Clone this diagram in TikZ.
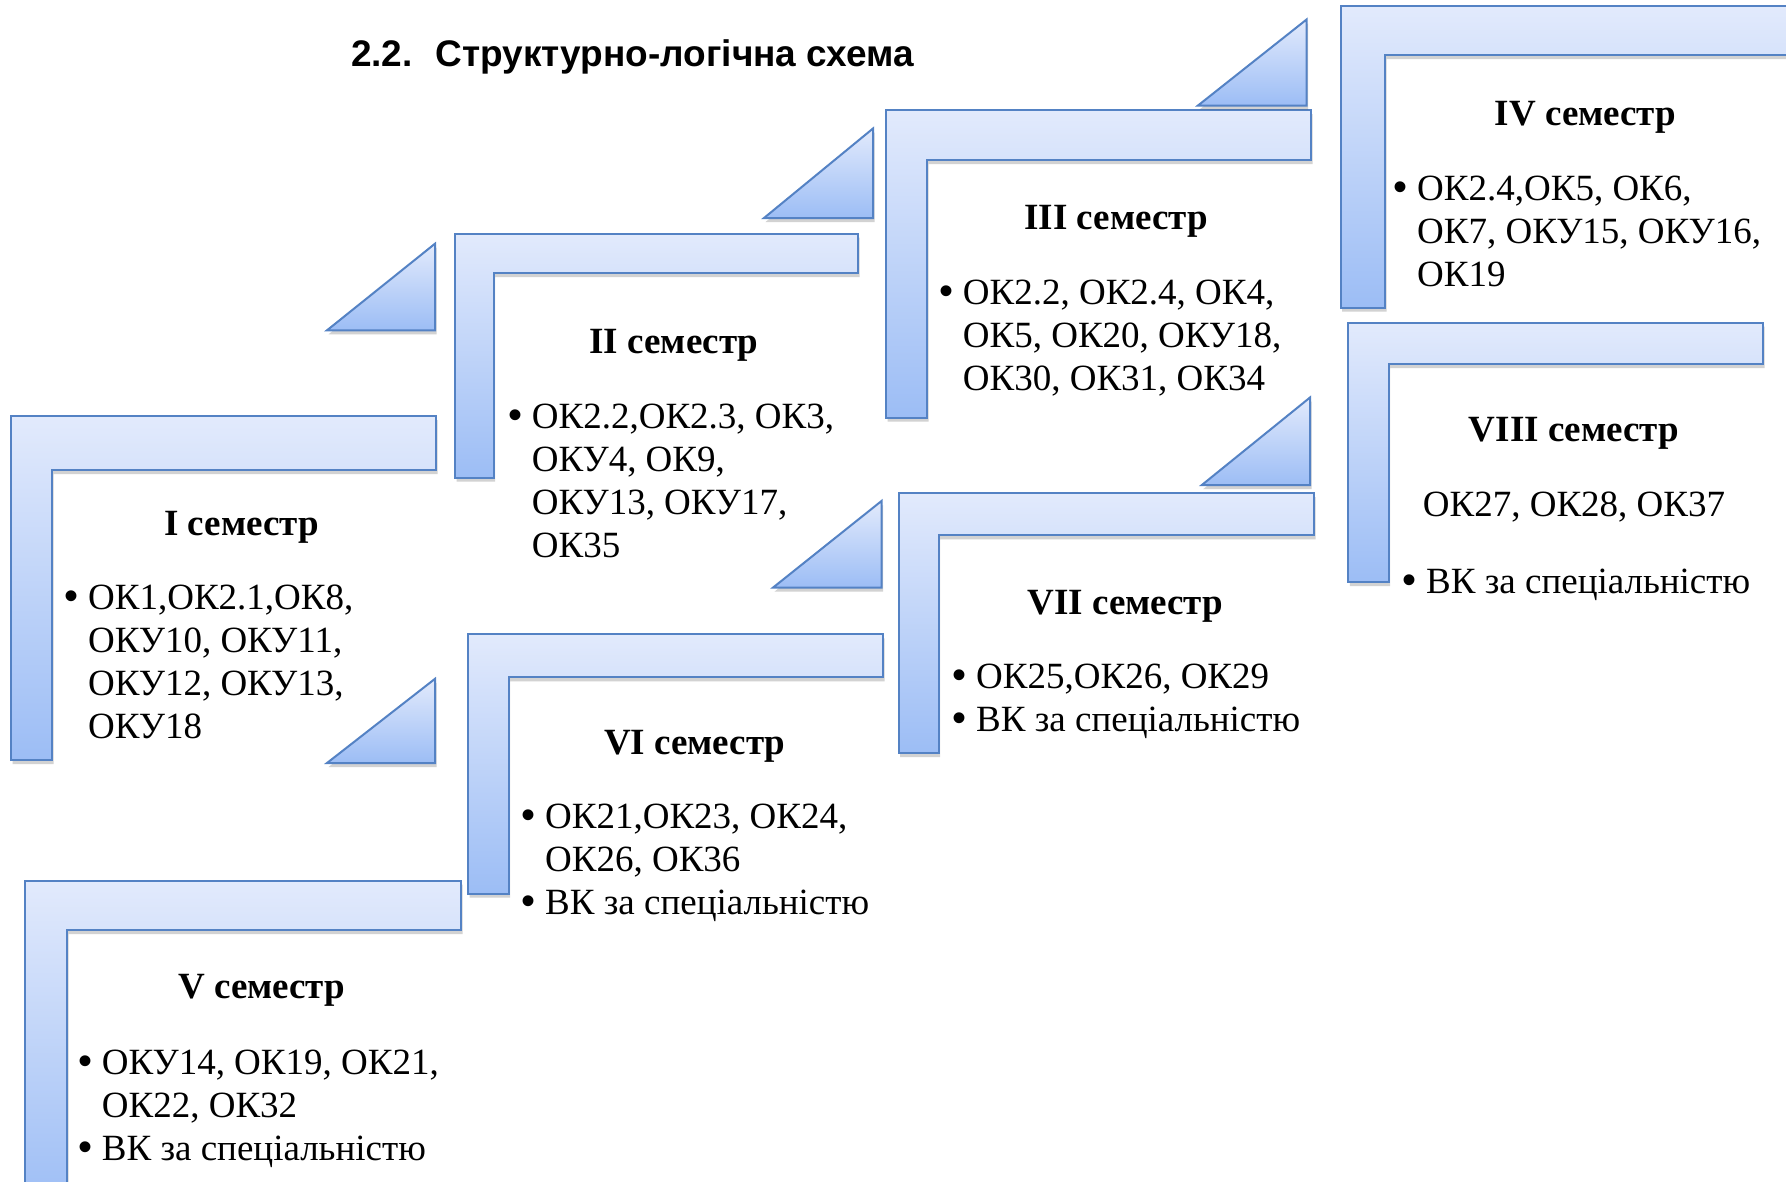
\documentclass[tikz,border=0pt]{standalone}
\usepackage{fontspec}
\setmainfont{Liberation Serif}
\newfontfamily\titlefont{Liberation Sans}
\usetikzlibrary{shadows}
\definecolor{edgeblue}{RGB}{84,130,196}
\definecolor{topblue}{RGB}{226,234,252}
\definecolor{botblue}{RGB}{156,189,245}
\newcommand\blt{{\titlefont\fontsize{40}{43}\selectfont •}}
\newcommand\blist[1]{\begin{tabular}[t]{@{}l@{\hspace{9.5pt}}l@{}}#1\end{tabular}}
\tikzset{
  stepframe/.style={draw=edgeblue, line width=2pt, line join=miter,
    top color=topblue, bottom color=botblue,
    drop shadow={shadow xshift=1.5pt, shadow yshift=-4pt, opacity=0.25, fill=black!70}},
  headtxt/.style={font={\fontsize{37}{43}\selectfont\bfseries}, inner sep=0pt, anchor=base},
  bodytxt/.style={font={\fontsize{37}{43}\selectfont}, inner sep=0pt, anchor=base west},
  ctrtxt/.style={font={\fontsize{37}{43}\selectfont}, inner sep=0pt, anchor=base},
}
\begin{document}
\begin{tikzpicture}[x=1pt,y=-1pt]
\useasboundingbox (0,0) rectangle (1786,1181);
\fill[white] (0,0) rectangle (1786,1181);
\begin{scope}
\clip (0,0) rectangle (1786,1181);
% half frames
\path[stepframe] (11,416) -- (436,416) -- (436,470) -- (52,470) -- (52,760) -- (11,760) -- cycle;
\path[stepframe] (455,233.5) -- (858,233.5) -- (858,273) -- (493.5,273) -- (493.5,477.5) -- (455,477.5) -- cycle;
\path[stepframe] (886,110) -- (1311,110) -- (1311,160) -- (927,160) -- (927,417.5) -- (886,417.5) -- cycle;
\path[stepframe] (1340.7,6) -- (1810,6) -- (1810,55) -- (1385,55) -- (1385,307.5) -- (1340.7,307.5) -- cycle;
\path[stepframe] (25,880.7) -- (461,880.7) -- (461,930) -- (67,930) -- (67,1210) -- (25,1210) -- cycle;
\path[stepframe] (468,634.3) -- (883,634.3) -- (883,677.3) -- (508.5,677.3) -- (508.5,893.5) -- (468,893.5) -- cycle;
\path[stepframe] (898.7,493.2) -- (1314,493.2) -- (1314,535.3) -- (938.5,535.3) -- (938.5,753) -- (898.7,753) -- cycle;
\path[stepframe] (1348.3,322.7) -- (1763,322.7) -- (1763,364.2) -- (1388.7,364.2) -- (1388.7,582) -- (1348.3,582) -- cycle;
% triangles
\path[stepframe] (327,330.3) -- (435,330.3) -- (435,243.7) -- cycle;
\path[stepframe] (327,763) -- (435,763) -- (435,678.8) -- cycle;
\path[stepframe] (764,218) -- (873,218) -- (873,128.5) -- cycle;
\path[stepframe] (1198,105.5) -- (1306.7,105.5) -- (1306.7,19.4) -- cycle;
\path[stepframe] (773,587.6) -- (881.5,587.6) -- (881.5,501) -- cycle;
\path[stepframe] (1201.6,485.2) -- (1310,485.2) -- (1310,397.5) -- cycle;
\end{scope}
% title
\node[font={\fontsize{37}{43}\selectfont\titlefont\bfseries}, inner sep=0pt, anchor=base west] (title) at (350.8,66) {2.2.\hspace{23pt}Структурно-логічна схема};
% headings
\node[headtxt] (h1) at (241.5,535) {I семестр};
\node[headtxt] (h2) at (674,353) {II семестр};
\node[headtxt] (h3) at (1116,229.3) {III семестр};
\node[headtxt] (h4) at (1585.5,125) {IV семестр};
\node[headtxt] (h5) at (261.7,998.3) {V семестр};
\node[headtxt] (h6) at (694.7,754.3) {VI семестр};
\node[headtxt] (h7) at (1125.3,614) {VII семестр};
\node[headtxt] (h8) at (1574,441.7) {VIII семестр};
% bodies
\node[bodytxt] (b1) at (64.5,609.5) {\blist{\blt & ОК1,ОК2.1,ОК8,\\ & ОКУ10, ОКУ11,\\ & ОКУ12, ОКУ13,\\ & ОКУ18}};
\node[bodytxt] (b2) at (508.2,428) {\blist{\blt & ОК2.2,ОК2.3, ОК3,\\ & ОКУ4, ОК9,\\ & ОКУ13, ОКУ17,\\ & ОК35}};
\node[bodytxt] (b3) at (939.2,304) {\blist{\blt & ОК2.2, ОК2.4, ОК4,\\ & ОК5, ОК20, ОКУ18,\\ & ОК30, ОК31, ОК34}};
\node[bodytxt] (b4) at (1393.5,200) {\blist{\blt & ОК2.4,ОК5, ОК6,\\ & ОК7, ОКУ15, ОКУ16,\\ & ОК19}};
\node[bodytxt] (b5) at (78.2,1074) {\blist{\blt & ОКУ14, ОК19, ОК21,\\ & ОК22, ОК32\\ \blt & ВК за спеціальністю}};
\node[bodytxt] (b6) at (521.5,828.5) {\blist{\blt & ОК21,ОК23, ОК24,\\ & ОК26, ОК36\\ \blt & ВК за спеціальністю}};
\node[bodytxt] (b7) at (952.5,688) {\blist{\blt & ОК25,ОК26, ОК29\\ \blt & ВК за спеціальністю}};
\node[ctrtxt] (b8a) at (1574,516.7) {ОК27, ОК28, ОК37};
\node[bodytxt] (b8b) at (1402.5,593) {\blist{\blt & ВК за спеціальністю}};
\end{tikzpicture}
\end{document}
